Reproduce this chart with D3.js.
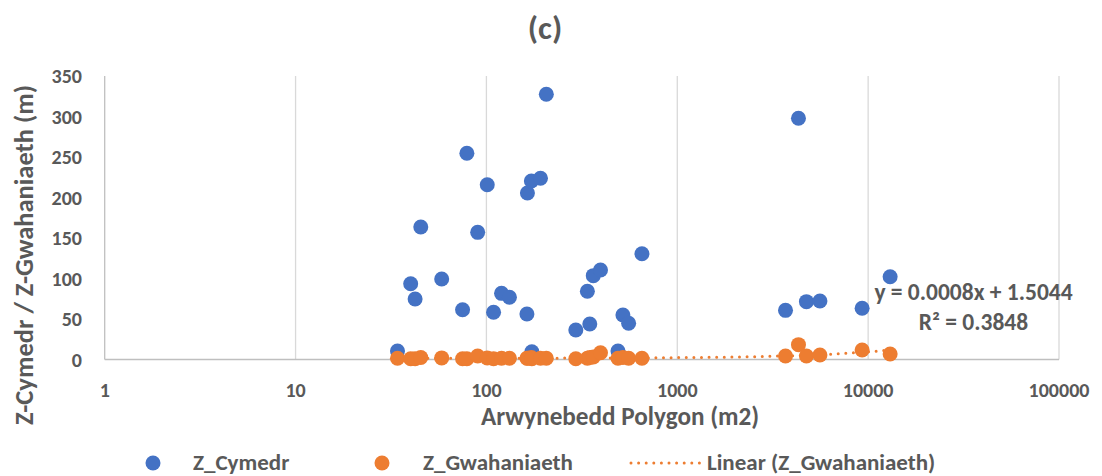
<!DOCTYPE html>
<html>
<head>
<meta charset="utf-8">
<script src="https://cdn.jsdelivr.net/npm/d3@7"></script>
<style>
  html, body { margin: 0; padding: 0; background: #fff; }
  svg { display: block; }
  text { font-family: Carlito, Calibri, Lato, sans-serif; font-weight: bold; fill: #595959; }
</style>
</head>
<body>
<svg id="chart" width="1102" height="476"></svg>
<script>
// Polygon area (m2) for each polygon
const area = [34.2, 40.1, 42.3, 45.3, 58.3, 75, 79, 90, 101, 109, 120, 132, 163, 164,
              172, 173, 192, 206, 294, 338, 348, 363, 396, 489, 519, 556, 653,
              3690, 4315, 4750, 5590, 9300, 13040];
// Mean Z per polygon (m)
const zCymedr = [10.5, 93.6, 74.7, 163.6, 99.4, 61.5, 254.6, 157, 215.8, 58.3, 81.7, 76.8, 56.2, 205.6,
                 220.4, 9.6, 223.7, 327.4, 36.4, 84.2, 43.8, 103.5, 110.5, 10.5, 54.9, 44.7, 130.6,
                 60.7, 297.8, 71.4, 72.2, 63.2, 102.2];
// Z difference per polygon (m)
const zGwahaniaeth = [1.5, 1.0, 1.0, 2.5, 2.0, 1.0, 1.0, 4.3, 2.0, 1.0, 1.5, 1.5, 1.5, 1.5,
                      2.5, 1.0, 1.5, 1.5, 1.0, 1.5, 2.5, 3.0, 8.4, 1.5, 2.5, 1.5, 1.5,
                      4.3, 18.3, 4.3, 5.6, 11.7, 6.8];
// Linear trend of Z_Gwahaniaeth
const trendSlope = 0.0008;
const trendIntercept = 1.5044;
const trendR2 = 0.3848;

const xTicks = [1, 10, 100, 1000, 10000, 100000];
const yTicks = [0, 50, 100, 150, 200, 250, 300, 350];
const seriesNames = ["Z_Cymedr", "Z_Gwahaniaeth", "Linear (Z_Gwahaniaeth)"];

const blue = "#4472C4", orange = "#ED7D31";
const svg = d3.select("#chart");

const plotLeft = 104.7, plotRight = 1059, plotTop = 76, plotBottom = 359.5;
const x = d3.scaleLog().domain([1, 100000]).range([plotLeft, plotRight]);
const y = d3.scaleLinear().domain([0, 350]).range([plotBottom, plotTop]);

// vertical gridlines at each decade
svg.append("g").selectAll("line").data(xTicks.slice(1)).join("line")
  .attr("x1", d => x(d)).attr("x2", d => x(d))
  .attr("y1", plotTop).attr("y2", plotBottom)
  .attr("stroke", "#d9d9d9").attr("stroke-width", 1.3);

// axis lines
svg.append("line").attr("x1", plotLeft).attr("x2", plotLeft).attr("y1", plotTop).attr("y2", plotBottom)
  .attr("stroke", "#bfbfbf").attr("stroke-width", 1.3);
svg.append("line").attr("x1", plotLeft).attr("x2", plotRight).attr("y1", plotBottom).attr("y2", plotBottom)
  .attr("stroke", "#bfbfbf").attr("stroke-width", 1.3);

// tick labels
svg.append("g").selectAll("text").data(xTicks).join("text")
  .attr("x", d => x(d)).attr("y", 397)
  .attr("text-anchor", "middle").attr("font-size", 20)
  .text(d => d3.format("d")(d));
svg.append("g").selectAll("text").data(yTicks).join("text")
  .attr("x", 82).attr("y", d => y(d)).attr("dy", "0.36em")
  .attr("text-anchor", "end").attr("font-size", 20)
  .text(d => d);

// axis titles
svg.append("text").attr("x", 620).attr("y", 425).attr("text-anchor", "middle")
  .attr("font-size", 25.2).text("Arwynebedd Polygon (m2)");
svg.append("text").attr("transform", "translate(33,255) rotate(-90)")
  .attr("text-anchor", "middle").attr("font-size", 26.5)
  .text("Z-Cymedr / Z-Gwahaniaeth (m)");

// chart title
svg.append("text").attr("x", 545).attr("y", 38.5).attr("text-anchor", "middle")
  .attr("font-size", 33).text("(c)");

const r = 7.5;
// Z_Cymedr markers
svg.append("g").selectAll("circle").data(area).join("circle")
  .attr("cx", d => x(d)).attr("cy", (d, i) => y(zCymedr[i])).attr("r", r).attr("fill", blue);

// trendline of Z_Gwahaniaeth (linear in x, drawn on the log axis)
const xMin = d3.min(area), xMax = d3.max(area);
const trendX = d3.range(0, 201).map(k => xMin * Math.pow(xMax / xMin, k / 200));
svg.append("path")
  .datum(trendX)
  .attr("d", d3.line().x(d => x(d)).y(d => y(trendSlope * d + trendIntercept)))
  .attr("fill", "none").attr("stroke", orange).attr("stroke-width", 3)
  .attr("stroke-linecap", "round").attr("stroke-dasharray", "0 7.6");

// Z_Gwahaniaeth markers
svg.append("g").selectAll("circle").data(area).join("circle")
  .attr("cx", d => x(d)).attr("cy", (d, i) => y(zGwahaniaeth[i])).attr("r", r).attr("fill", orange);

// trendline equation
svg.append("text").attr("x", 973.5).attr("y", 300).attr("text-anchor", "middle")
  .attr("font-size", 23.5)
  .text(`y = ${trendSlope.toFixed(4)}x + ${trendIntercept.toFixed(4)}`);
svg.append("text").attr("x", 973.5).attr("y", 330).attr("text-anchor", "middle")
  .attr("font-size", 23.5)
  .text(`R² = ${trendR2.toFixed(4)}`);

// legend
const lg = svg.append("g");
const ly = 463;
lg.append("circle").attr("cx", 153).attr("cy", ly).attr("r", r).attr("fill", blue);
lg.append("text").attr("x", 193).attr("y", 469.5).attr("font-size", 23).text(seriesNames[0]);
lg.append("circle").attr("cx", 382).attr("cy", ly).attr("r", r).attr("fill", orange);
lg.append("text").attr("x", 423).attr("y", 469.5).attr("font-size", 23).text(seriesNames[1]);
lg.append("line").attr("x1", 631).attr("x2", 700).attr("y1", ly).attr("y2", ly)
  .attr("stroke", orange).attr("stroke-width", 3).attr("stroke-linecap", "round")
  .attr("stroke-dasharray", "0 7.6");
lg.append("text").attr("x", 707).attr("y", 469.5).attr("font-size", 23).text(seriesNames[2]);
</script>
</body>
</html>
